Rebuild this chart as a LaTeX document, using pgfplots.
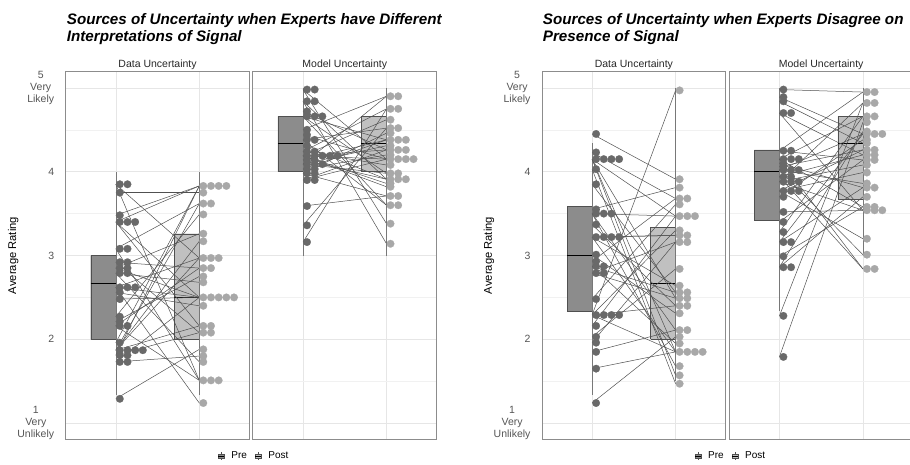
\documentclass[border=0pt]{standalone}
\usepackage{fontspec}
\setmainfont{Liberation Sans}
\usepackage{pgfplots}
\usepackage{pgfplotstable}
\pgfplotsset{compat=1.18}

\definecolor{prebox}{RGB}{140,140,140}
\definecolor{postbox}{RGB}{192,192,192}
\definecolor{predot}{RGB}{105,105,105}
\definecolor{postdot}{RGB}{168,168,168}
\definecolor{boxline}{RGB}{80,80,80}
\definecolor{linecol}{RGB}{80,80,80}
\definecolor{whisk}{RGB}{120,120,120}
\definecolor{border}{RGB}{140,140,140}
\definecolor{gridmaj}{RGB}{230,230,230}
\definecolor{gridmin}{RGB}{241,241,241}
\definecolor{tickcol}{RGB}{85,85,85}
\definecolor{stripcol}{RGB}{40,40,40}

\newcommand\ticktext{\fontsize{10.5}{11.8}\selectfont}
\newcommand\striptext{\fontsize{10.5}{12}\selectfont}
\newcommand\labtext{\fontsize{11.2}{13}\selectfont}
\newcommand\legtext{\fontsize{10}{12}\selectfont}
\newcommand\titletext{\fontsize{15.2}{16.5}\selectfont\bfseries\itshape}

% pre kpre post kpost : one row per expert (kpre/kpost = position in the dot stack)
\pgfplotstableread{
pre kpre post kpost
3.85 0 2.97 0
3.85 1 1.51 0
3.75 0 3.75 0
3.48 0 3.83 0
3.40 0 3.83 1
3.40 1 2.50 0
3.40 2 2.16 0
3.08 0 3.62 0
3.08 1 1.51 1
2.92 0 2.85 0
2.92 1 2.08 0
2.85 0 3.26 0
2.85 1 2.50 1
2.79 0 2.68 0
2.79 1 1.73 0
2.62 0 2.50 2
2.62 1 2.97 1
2.62 2 1.24 0
2.56 0 2.40 0
2.48 0 2.50 3
2.27 0 3.49 0
2.21 0 2.75 0
2.16 0 1.51 2
2.16 1 2.85 1
1.96 0 3.83 2
1.87 0 3.62 1
1.87 1 2.97 2
1.87 2 3.17 0
1.87 3 2.16 1
1.81 0 3.83 3
1.81 1 2.08 1
1.73 0 2.50 4
1.73 1 1.80 0
1.29 0 1.88 0
}\tabLD

\pgfplotstableread{
pre kpre post kpost
4.98 0 3.38 0
4.98 1 4.15 0
4.84 0 3.14 0
4.84 1 3.91 0
4.72 0 4.26 0
4.66 0 3.60 0
4.66 1 4.38 0
4.66 2 3.98 0
4.50 0 4.90 0
4.44 0 4.15 1
4.38 0 3.60 1
4.38 1 4.52 0
4.31 0 3.91 1
4.24 0 4.75 0
4.24 1 4.08 0
4.19 0 4.26 1
4.19 1 3.82 0
4.19 2 4.62 0
4.19 3 4.15 2
4.19 4 3.86 0
4.14 0 4.38 1
4.14 1 3.91 2
4.09 0 4.90 1
4.09 1 3.98 1
4.09 2 4.31 0
4.03 0 4.38 2
4.03 1 4.20 0
3.98 0 4.46 0
3.98 1 3.71 0
3.90 0 4.15 3
3.90 1 4.26 2
3.59 0 3.71 1
3.36 0 4.52 1
3.16 0 4.75 1
}\tabLM

\pgfplotstableread{
pre kpre post kpost
4.45 0 3.91 0
4.23 0 3.68 0
4.15 0 3.47 0
4.15 1 1.57 0
4.15 2 2.49 0
4.15 3 1.85 0
4.03 0 1.47 0
3.85 0 2.56 0
3.55 0 3.81 0
3.50 0 3.47 1
3.50 1 2.11 0
3.50 2 1.68 0
3.37 0 2.40 0
3.22 0 3.24 0
3.22 1 3.24 1
3.22 2 1.85 1
3.22 3 2.64 0
3.01 0 2.31 0
2.93 0 3.68 1
2.87 0 2.56 1
2.87 1 1.95 0
2.79 0 3.16 0
2.79 1 2.49 1
2.48 0 3.61 0
2.29 0 4.97 0
2.29 1 3.30 0
2.29 2 2.40 1
2.29 3 1.85 2
2.16 0 3.47 2
2.03 0 2.84 0
1.96 0 3.16 1
1.85 0 2.11 1
1.65 0 1.85 3
1.24 0 2.03 0
}\tabRD

\pgfplotstableread{
pre kpre post kpost
4.98 0 4.95 0
4.89 0 4.45 0
4.84 0 4.34 0
4.70 0 4.20 0
4.70 1 3.54 0
4.25 0 4.95 1
4.25 1 4.14 0
4.15 0 3.58 0
4.15 1 2.84 0
4.15 2 4.66 0
4.10 0 3.81 0
4.06 0 4.26 0
4.02 0 3.01 0
4.02 1 4.45 1
4.02 2 3.86 0
3.94 0 4.20 1
3.94 1 2.84 1
3.88 0 4.82 0
3.88 1 3.54 1
3.88 2 4.08 0
3.77 0 3.20 0
3.77 1 4.26 1
3.77 2 3.99 0
3.70 0 4.38 0
3.52 0 3.54 2
3.40 0 4.14 1
3.28 0 4.66 1
3.16 0 3.81 1
3.16 1 4.45 2
2.99 0 3.58 1
2.86 0 4.48 0
2.86 1 3.70 0
2.28 0 4.82 1
1.79 0 4.59 0
}\tabRM

\pgfplotsset{
  facet/.style={
    scale only axis, width=183.7pt, height=367.6pt, anchor=north west,
    xmin=0.4, xmax=2.6, ymin=0.807, ymax=5.193,
    xtick={1,2}, xticklabels={},
    ytick={1,2,3,4,5}, minor ytick={1.5,2.5,3.5,4.5}, yticklabels={},
    grid=both,
    major grid style={draw=gridmaj, line width=0.55pt},
    minor grid style={draw=gridmin, line width=0.4pt},
    major tick length=0pt, minor tick length=0pt,
    axis line style={draw=border, line width=0.9pt},
    every axis title/.style={at={(0.5,1)}, anchor=base, yshift=4.3pt, font=\striptext, text=stripcol},
  },
  ylabs/.style={
    yticklabels={{1\\Very\\Unlikely},2,3,4,{5\\Very\\Likely}},
    yticklabel style={align=center, font=\ticktext, text=tickcol, xshift=-8pt},
  },
  leg/.style={
    legend columns=2,
    legend style={draw=none, fill=none, at={(#1,-0.0454)}, anchor=center,
      font=\legtext,
      /tikz/every odd column/.append style={column sep=5pt},
      /tikz/every even column/.append style={column sep=6pt}},
  },
  preicon/.style={legend image code/.code={
    \draw[draw=boxline, line width=0.4pt] (3pt,-3.6pt) -- (3pt,3.6pt);
    \draw[fill=prebox, draw=boxline, line width=0.4pt] (0pt,-2.2pt) rectangle (6pt,2.2pt);
    \draw[draw=black, line width=0.5pt] (0pt,0pt) -- (6pt,0pt);}},
  posticon/.style={legend image code/.code={
    \draw[draw=boxline, line width=0.4pt] (3pt,-3.6pt) -- (3pt,3.6pt);
    \draw[fill=postbox, draw=boxline, line width=0.4pt] (0pt,-2.2pt) rectangle (6pt,2.2pt);
    \draw[draw=black, line width=0.5pt] (0pt,0pt) -- (6pt,0pt);}},
  boxpre/.style={fill=prebox, draw=boxline, line width=0.4pt, forget plot},
  boxpost/.style={fill=postbox, draw=boxline, line width=0.4pt, forget plot},
  med/.style={black, line width=0.8pt, forget plot},
  wh/.style={whisk, line width=0.5pt, forget plot},
  pairs/.style={linecol, line width=0.5pt, no marks, forget plot, quiver={u=1, v=\thisrow{post}-\thisrow{pre}}},
  dotpre/.style={only marks, mark=*, mark size=3.8pt, forget plot, mark options={draw=predot, fill=predot, line width=0.2pt}},
  dotpost/.style={only marks, mark=*, mark size=3.8pt, forget plot, mark options={draw=postdot, fill=postdot, line width=0.2pt}},
}

\begin{document}
\begin{tikzpicture}
\useasboundingbox (0pt,0pt) rectangle (910pt,-464pt);

% ---------- left chart, Data Uncertainty ----------
\begin{axis}[facet, ylabs, at={(65.7pt,-71.7pt)}, title={Data Uncertainty}]
\addplot[boxpre] coordinates {(0.7,2.0) (1,2.0) (1,3.0) (0.7,3.0) (0.7,2.0)};
\addplot[boxpost] coordinates {(1.7,2.0) (2,2.0) (2,3.26) (1.7,3.26) (1.7,2.0)};
\addplot[med] coordinates {(0.7,2.67) (1,2.67)};
\addplot[med] coordinates {(1.7,2.50) (2,2.50)};
\addplot[wh] coordinates {(1,1.33) (1,4.0)};
\addplot[wh] coordinates {(2,1.33) (2,4.0)};
\addplot[pairs] table[x expr=1, y=pre] {\tabLD};
\addplot[dotpre] table[x expr=1.048+0.092*\thisrow{kpre}, y=pre] {\tabLD};
\addplot[dotpost] table[x expr=2.048+0.092*\thisrow{kpost}, y=post] {\tabLD};
\end{axis}

% ---------- left chart, Model Uncertainty ----------
\begin{axis}[facet, at={(252.9pt,-71.7pt)}, title={Model Uncertainty}, leg=0.007]
\addplot[boxpre] coordinates {(0.7,4.0) (1,4.0) (1,4.66) (0.7,4.66) (0.7,4.0)};
\addplot[boxpost] coordinates {(1.7,4.0) (2,4.0) (2,4.66) (1.7,4.66) (1.7,4.0)};
\addplot[med] coordinates {(0.7,4.34) (1,4.34)};
\addplot[med] coordinates {(1.7,4.34) (2,4.34)};
\addplot[wh] coordinates {(1,3.0) (1,5.0)};
\addplot[wh] coordinates {(2,3.0) (2,5.0)};
\addplot[pairs] table[x expr=1, y=pre] {\tabLM};
\addplot[dotpre] table[x expr=1.048+0.092*\thisrow{kpre}, y=pre] {\tabLM};
\addplot[dotpost] table[x expr=2.048+0.092*\thisrow{kpost}, y=post] {\tabLM};
\addlegendimage{preicon}
\addlegendentry{Pre}
\addlegendimage{posticon}
\addlegendentry{Post}
\end{axis}

% ---------- right chart, Data Uncertainty ----------
\begin{axis}[facet, ylabs, at={(542pt,-71.7pt)}, title={Data Uncertainty}]
\addplot[boxpre] coordinates {(0.7,2.34) (1,2.34) (1,3.59) (0.7,3.59) (0.7,2.34)};
\addplot[boxpost] coordinates {(1.7,2.0) (2,2.0) (2,3.34) (1.7,3.34) (1.7,2.0)};
\addplot[med] coordinates {(0.7,3.0) (1,3.0)};
\addplot[med] coordinates {(1.7,2.67) (2,2.67)};
\addplot[wh] coordinates {(1,1.34) (1,4.34)};
\addplot[wh] coordinates {(2,1.5) (2,5.0)};
\addplot[pairs] table[x expr=1, y=pre] {\tabRD};
\addplot[dotpre] table[x expr=1.048+0.092*\thisrow{kpre}, y=pre] {\tabRD};
\addplot[dotpost] table[x expr=2.048+0.092*\thisrow{kpost}, y=post] {\tabRD};
\end{axis}

% ---------- right chart, Model Uncertainty ----------
\begin{axis}[facet, at={(729.3pt,-71.7pt)}, title={Model Uncertainty}, leg=0.009]
\addplot[boxpre] coordinates {(0.7,3.42) (1,3.42) (1,4.26) (0.7,4.26) (0.7,3.42)};
\addplot[boxpost] coordinates {(1.7,3.67) (2,3.67) (2,4.66) (1.7,4.66) (1.7,3.67)};
\addplot[med] coordinates {(0.7,4.0) (1,4.0)};
\addplot[med] coordinates {(1.7,4.34) (2,4.34)};
\addplot[wh] coordinates {(1,2.34) (1,5.0)};
\addplot[wh] coordinates {(2,3.0) (2,5.0)};
\addplot[pairs] table[x expr=1, y=pre] {\tabRM};
\addplot[dotpre] table[x expr=1.048+0.092*\thisrow{kpre}, y=pre] {\tabRM};
\addplot[dotpost] table[x expr=2.048+0.092*\thisrow{kpost}, y=post] {\tabRM};
\addlegendimage{preicon}
\addlegendentry{Pre}
\addlegendimage{posticon}
\addlegendentry{Post}
\end{axis}

% ---------- titles and axis titles ----------
\node[anchor=base west, inner sep=0pt, font=\titletext] at (66.7pt,-24.5pt) {Sources of Uncertainty when Experts have Different};
\node[anchor=base west, inner sep=0pt, font=\titletext] at (66.7pt,-41pt) {Interpretations of Signal};
\node[anchor=base west, inner sep=0pt, font=\titletext] at (542.7pt,-24.5pt) {Sources of Uncertainty when Experts Disagree on};
\node[anchor=base west, inner sep=0pt, font=\titletext] at (542.7pt,-41pt) {Presence of Signal};
\node[rotate=90, inner sep=0pt, font=\labtext] at (13.3pt,-255.5pt) {Average Rating};
\node[rotate=90, inner sep=0pt, font=\labtext] at (489pt,-255.5pt) {Average Rating};
\end{tikzpicture}
\end{document}
